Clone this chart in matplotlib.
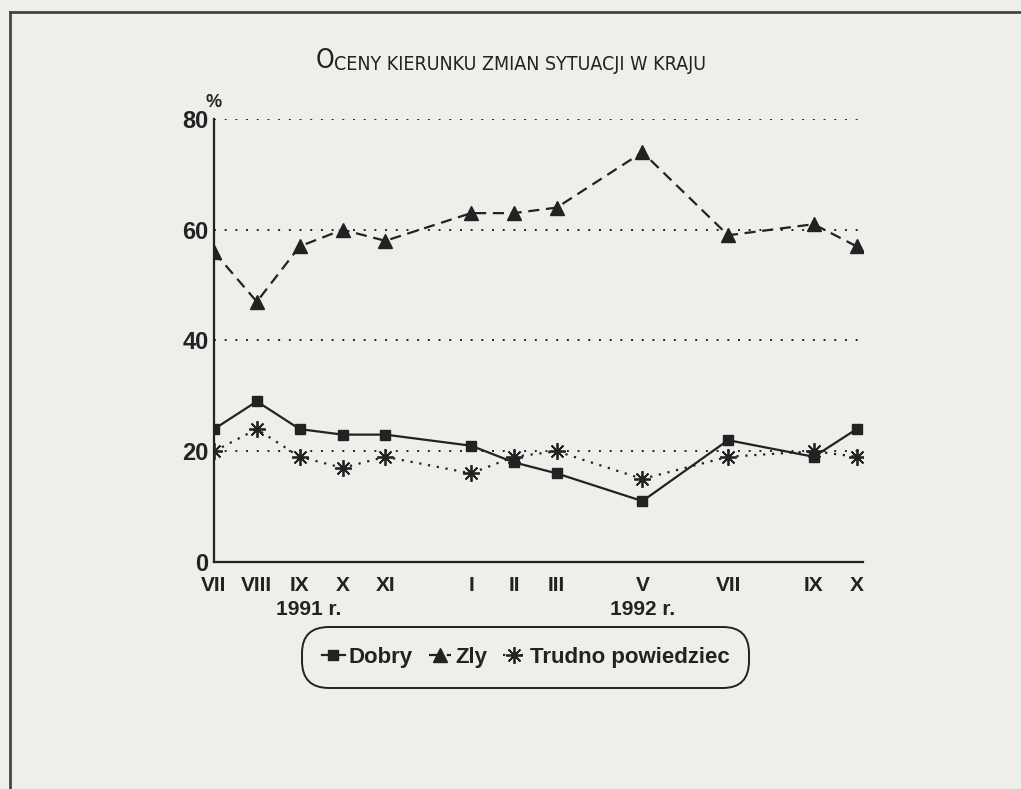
import matplotlib.pyplot as plt
from matplotlib.lines import Line2D

# months since VII 1991 (gaps where no survey)
months = [0, 1, 2, 3, 4, 6, 7, 8, 10, 12, 14, 15]
month_labels = ["VII", "VIII", "IX", "X", "XI", "I", "II", "III", "V", "VII", "IX", "X"]
dobry = [24, 29, 24, 23, 23, 21, 18, 16, 11, 22, 19, 24]
zly = [56, 47, 57, 60, 58, 63, 63, 64, 74, 59, 61, 57]
trudno = [20, 24, 19, 17, 19, 16, 19, 20, 15, 19, 20, 19]
yticks = [0, 20, 40, 60, 80]

bg = "#eeeeea"
ink = "#222222"
plt.rcParams['font.family'] = ['Liberation Sans', 'DejaVu Sans']

fig = plt.figure(figsize=(10.21, 7.89), dpi=100, facecolor=bg)
ax = fig.add_axes([0.2096, 0.2877, 0.6357, 0.5615], facecolor=bg)

for y in yticks[1:]:
    ax.axhline(y, color=ink, lw=1.4, ls=(0, (1, 4.5)), zorder=1)

ax.plot(months, dobry, color=ink, lw=1.6, marker='s', ms=7, label="Dobry", zorder=3)
ax.plot(months, zly, color=ink, lw=1.6, ls=(0, (5, 3)), marker='^', ms=10, label="Zly", zorder=3)
ax.plot(months, trudno, color=ink, lw=1.6, ls=(0, (1, 3)), marker=(8, 2, 0), ms=12,
        mew=1.3, label="Trudno powiedziec", zorder=3)

ax.set_xlim(0, 15.15)
ax.set_ylim(0, 80)
ax.set_xticks(months)
ax.set_xticklabels(month_labels, fontsize=15, fontweight='bold', color=ink)
ax.set_yticks(yticks)
ax.set_yticklabels([str(v) for v in yticks], fontsize=17, fontweight='bold', color=ink)
ax.tick_params(length=0)
ax.tick_params(axis='y', pad=4)
ax.tick_params(axis='x', pad=10)
for s in ['top', 'right']:
    ax.spines[s].set_visible(False)
for s in ['left', 'bottom']:
    ax.spines[s].set_color(ink)
    ax.spines[s].set_linewidth(1.6)

ax.text(0, 81.5, "%", fontsize=13, fontweight='bold', color=ink, ha='center', va='bottom')
ax.text(2.2, -6.9, "1991 r.", fontsize=15, fontweight='bold', color=ink, ha='center', va='top')
ax.text(10, -6.9, "1992 r.", fontsize=15, fontweight='bold', color=ink, ha='center', va='top')

leg = fig.legend(loc='center', bbox_to_anchor=(0.515, 0.167), ncol=3,
                 prop={'weight': 'bold', 'size': 16}, handlelength=1.0, handletextpad=0.2,
                 columnspacing=0.7, frameon=True, borderpad=0.7, facecolor=bg,
                 edgecolor=ink, framealpha=1)
leg.get_frame().set_boxstyle('round,pad=0.2,rounding_size=1.2')
leg.get_frame().set_linewidth(1.4)
for t in leg.get_texts():
    t.set_color(ink)

# title in small-caps style, condensed face
tfam = ['DejaVu Sans', 'Liberation Sans']
t1 = fig.text(0.309, 0.914, "O", fontsize=19, color=ink, ha='left', va='baseline',
              family=tfam, stretch='condensed')
fig.draw_without_rendering()
ax.annotate("CENY KIERUNKU ZMIAN SYTUACJI W KRAJU", xy=(1, 0), xycoords=t1,
            fontsize=14, color=ink, ha='left', va='bottom', family=tfam,
            stretch='condensed', annotation_clip=False)

# outer frame of the page
fig.add_artist(Line2D([10 / 1021, 1.0], [1 - 12 / 789] * 2, transform=fig.transFigure,
                      color="#444444", lw=2))
fig.add_artist(Line2D([10 / 1021] * 2, [0, 1 - 12 / 789], transform=fig.transFigure,
                      color="#444444", lw=2))

fig.savefig("out.png", dpi=100, facecolor=bg)
